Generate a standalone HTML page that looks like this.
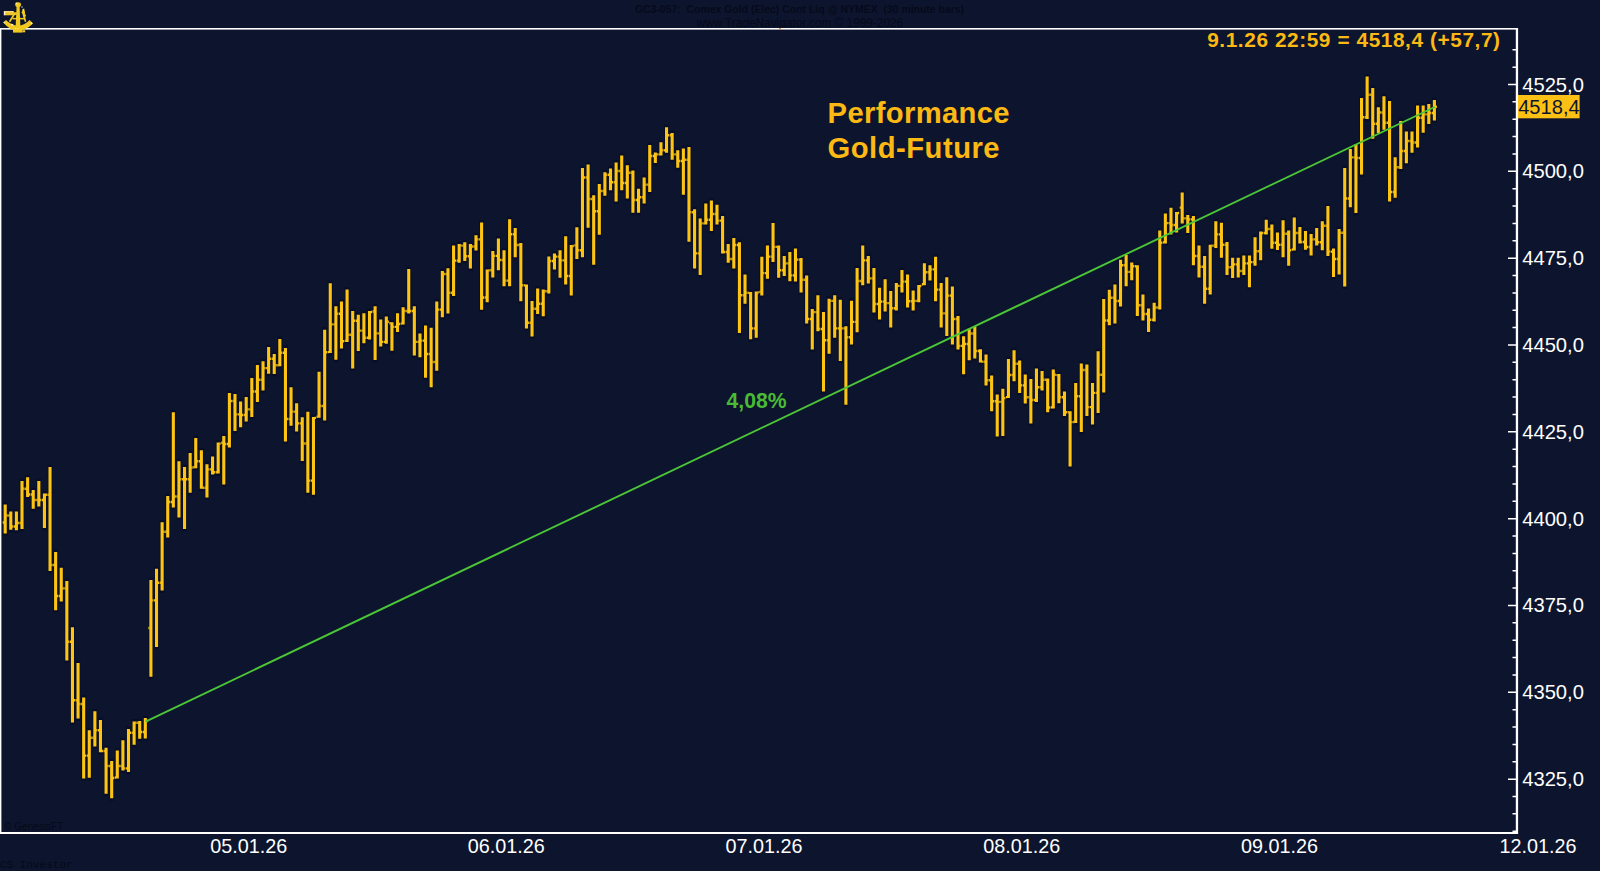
<!DOCTYPE html>
<html lang="de">
<head>
<meta charset="utf-8">
<title>Performance Gold-Future</title>
<style>
html,body{margin:0;padding:0;background:#0d152e;}
body{width:1600px;height:871px;overflow:hidden;position:relative;font-family:"Liberation Sans",Arial,sans-serif;}
svg{position:absolute;left:0;top:0;display:block;}
text{font-family:"Liberation Sans",Arial,sans-serif;}
.ax text{font-size:20.2px;fill:#fff;}
.ax text.d{font-size:19.8px;}
.mono{font-family:"Liberation Mono","Courier New",monospace;}
</style>
</head>
<body>
<svg width="1600" height="871" viewBox="0 0 1600 871">
<rect width="1600" height="871" fill="#0d152e"/>
<!-- header (dark on dark) -->
<g fill="#060a1b" text-anchor="middle">
<text x="799.5" y="12.6" font-size="10.45" font-weight="bold" xml:space="preserve">GC3-057:  Comex Gold (Elec) Cont Liq @ NYMEX  (30 minute bars)</text>
<text x="800" y="26.8" font-size="11.85">www.TradeNavigator.com © 1999-2026</text>
</g>
<!-- frame -->
<g fill="#fff">
<rect x="0" y="28" width="1518" height="1.6"/>
<rect x="0" y="28" width="1.4" height="806"/>
<rect x="0" y="832" width="1518" height="2"/>
<rect x="1515.8" y="28" width="2.3" height="806"/>
</g>
<rect x="779.2" y="28" width="1.6" height="1.6" fill="#e0782a"/>
<path d="M1512.5 831.24H1516.5M1512.5 813.87H1516.5M1512.5 796.51H1516.5M1508 779.14H1516.5M1512.5 761.77H1516.5M1512.5 744.41H1516.5M1512.5 727.04H1516.5M1512.5 709.68H1516.5M1508 692.31H1516.5M1512.5 674.94H1516.5M1512.5 657.58H1516.5M1512.5 640.21H1516.5M1512.5 622.85H1516.5M1508 605.48H1516.5M1512.5 588.11H1516.5M1512.5 570.75H1516.5M1512.5 553.38H1516.5M1512.5 536.02H1516.5M1508 518.65H1516.5M1512.5 501.28H1516.5M1512.5 483.92H1516.5M1512.5 466.55H1516.5M1512.5 449.19H1516.5M1508 431.82H1516.5M1512.5 414.45H1516.5M1512.5 397.09H1516.5M1512.5 379.72H1516.5M1512.5 362.36H1516.5M1508 344.99H1516.5M1512.5 327.62H1516.5M1512.5 310.26H1516.5M1512.5 292.89H1516.5M1512.5 275.53H1516.5M1508 258.16H1516.5M1512.5 240.79H1516.5M1512.5 223.43H1516.5M1512.5 206.06H1516.5M1512.5 188.7H1516.5M1508 171.33H1516.5M1512.5 153.96H1516.5M1512.5 136.6H1516.5M1512.5 119.23H1516.5M1512.5 101.87H1516.5M1508 84.5H1516.5M1512.5 67.13H1516.5M1512.5 49.77H1516.5" stroke="#fff" stroke-width="1.5" fill="none"/>
<g class="ax"><text x="1522.2" y="786.14">4325,0</text><text x="1522.2" y="699.31">4350,0</text><text x="1522.2" y="612.48">4375,0</text><text x="1522.2" y="525.65">4400,0</text><text x="1522.2" y="438.82">4425,0</text><text x="1522.2" y="351.99">4450,0</text><text x="1522.2" y="265.16">4475,0</text><text x="1522.2" y="178.33">4500,0</text><text x="1522.2" y="91.5">4525,0</text><text class="d" x="248.7" y="852.6" text-anchor="middle">05.01.26</text><text class="d" x="506.3" y="852.6" text-anchor="middle">06.01.26</text><text class="d" x="764" y="852.6" text-anchor="middle">07.01.26</text><text class="d" x="1021.7" y="852.6" text-anchor="middle">08.01.26</text><text class="d" x="1279.4" y="852.6" text-anchor="middle">09.01.26</text><text class="d" x="1538" y="852.6" text-anchor="middle">12.01.26</text></g>
<!-- watermark texts -->
<text x="4.2" y="829.8" font-size="10" fill="#050918">© GenesisFT</text>
<text class="mono" x="0" y="868.4" font-size="11" fill="#050918">CS Investor</text>
<!-- price marker -->
<rect x="1518" y="95" width="61.6" height="23.3" fill="#fdc116"/>
<text x="1518.2" y="113.8" font-size="20.1" fill="#0d152e">4518,4</text>
<!-- bars -->
<path d="M5.2 504.6V533.5M10.8 511.6V529.8M16.41 511.6V530.3M22.01 481V529M27.62 477.3V497.1M33.22 490V508.8M38.83 481V506.5M44.43 493.4V527.9M50.04 467.1V571M55.64 552V610.3M61.25 567.7V601.5M66.85 581V660.6M72.46 627.2V722.4M78.06 663V718.5M83.67 697.5V778.5M89.27 730.3V777.75M94.88 711.2V746.6M100.48 720V752.25M106.08 747.75V793.7M111.69 760.9V798.2M117.29 750.6V778.5M122.9 740.25V770.6M128.5 729V772.1M134.11 721.5V744.75M139.71 720.9V738.75M145.32 718.1V738.4M150.92 580V676.7M156.53 568.7V646.9M162.13 522.3V590.6M167.74 496V537.4M173.34 412.2V507.4M178.95 461.3V517.6M184.55 467.1V529M190.16 453V492.8M195.76 438V468.2M201.36 450.25V488.8M206.97 464.3V497.5M212.57 456.6V474.6M218.18 442.6V473.6M223.78 436V484.4M229.39 393V447.4M234.99 394V431M240.6 401.5V427.2M246.2 397V421.6M251.81 378V416.9M257.41 365V401.9M263.02 361.2V390.6M268.62 347.1V373.75M274.23 354V374M279.83 339V366.25M285.44 348V441.6M291.04 387.3V425.7M296.64 403.3V431.5M302.25 417.25V461M307.85 411.8V492.8M313.46 416.9V494.7M319.06 371.7V417.8M324.67 329.7V420.6M330.27 283.2V353.1M335.88 306.25V359.7M341.48 301.6V348.4M347.09 289.4V341.9M352.69 311V368.5M358.3 314.7V350.9M363.9 313.2V343.2M369.51 311V339.4M375.11 306.25V360M380.71 319.4V346.6M386.32 316.6V343.75M391.92 322.2V350.7M397.53 313.2V332M403.13 307.2V324.6M408.74 269.1V313.4M414.34 306.25V355.6M419.95 333.4V357.25M425.55 325.4V377.7M431.16 327.8V387.25M436.76 301.6V370.7M442.37 271V317.15M447.97 268.3V313.5M453.58 245.6V296M459.18 244V262.8M464.79 242.2V260.9M470.39 244V268.4M475.99 235.25V250.6M481.6 222.5V309.7M487.2 269.4V302.2M492.81 251V277.4M498.41 238.4V270.3M504.02 250.25V286.25M509.62 219.3V286.25M515.23 228.1V257.2M520.83 243.1V301.25M526.44 284.4V328.4M532.04 300.9V336.5M537.65 288.5V314M543.25 289.6V316.25M548.86 256.6V293.4M554.46 253.4V269.4M560.07 250.25V277.8M565.67 236.2V284.4M571.27 245V295.6M576.88 227.2V259M582.48 168.1V257.2M588.09 164.4V227.75M593.69 195.3V264.7M599.3 184V234.7M604.9 172.25V195.7M610.51 168.5V190.25M616.11 162.5V201.5M621.72 155.4V190.25M627.32 165.3V198.5M632.93 170.4V212.7M638.53 188.75V212.7M644.14 177.5V203.4M649.74 145V192M655.35 152.6V163M660.95 142.25V155.6M666.55 127.25V152.75M672.16 132.9V159.7M677.76 150.3V167.75M683.37 148.4V194.75M688.97 147V241.7M694.58 209.2V268.4M700.18 218.6V275M705.79 203.4V224.4M711.39 200.4V231.1M717 204.7V224.6M722.6 216V253.4M728.21 244V262.8M733.81 238V268.4M739.42 242.2V333.1M745.02 274.6V303.7M750.63 291.9V339.3M756.23 291.5V337.8M761.83 256.8V295.6M767.44 245.6V278.75M773.04 223V261.9M778.65 245.6V277.8M784.25 255.9V276M789.86 252.1V281.2M795.46 248.4V281.6M801.07 258.1V292.4M806.67 275.4V323.4M812.28 309.1V349.6M817.88 295.25V331.25M823.49 312.1V391.6M829.09 298.8V353.75M834.7 295.25V337.8M840.3 299.75V360.9M845.91 326.2V404.7M851.51 300.7V344.4M857.11 268V332.2M862.72 245.4V285.3M868.32 255.9V283.4M873.93 268V312.5M879.53 287.75V319.6M885.14 279.3V311.6M890.74 291V327.5M896.35 283V310.6M901.95 270V292.4M907.56 274.6V307.4M913.16 290.6V310.6M918.77 285V302.2M924.37 263.2V285.3M929.98 265.25V280.6M935.58 256.8V301.25M941.18 283V327.5M946.79 277.25V336M952.39 286.6V344.4M958 315.9V349.6M963.6 336.3V374.2M969.21 328.4V360.3M974.81 326.2V358.4M980.42 349.2V362.6M986.02 354.4V385.4M991.63 375.5V411.25M997.23 394.4V436.6M1002.84 388.75V436M1008.44 359V398.1M1014.05 350.2V381.25M1019.65 360.5V393M1025.26 374.6V403.4M1030.86 379V423.4M1036.46 368.5V401.9M1042.07 371V390.6M1047.67 378.4V412.2M1053.28 369.6V408.4M1058.88 374.1V403.2M1064.49 391.6V416M1070.09 411.25V466.6M1075.7 383.1V423M1081.3 363.4V431.9M1086.91 364.4V416M1092.51 383.1V424.4M1098.12 351.25V413.1M1103.72 299.1V392.5M1109.33 289.7V325.35M1114.93 284.6V323.45M1120.54 259.7V306.6M1126.14 255V286.3M1131.74 262.5V280.3M1137.35 265.3V316M1142.95 294.4V320.5M1148.56 308.4V332M1154.16 302.8V321.6M1159.77 230.6V309.4M1165.37 213.4V243.4M1170.98 207.75V234.4M1176.58 211.9V232.5M1182.19 192.6V223.5M1187.79 215V232.9M1193.4 216V265.3M1199 245.6V277.5M1204.61 256V303.75M1210.21 244.7V294.4M1215.82 221.25V247.9M1221.42 222.75V257.8M1227.02 241.9V275M1232.63 257.8V277.9M1238.23 257.8V277.5M1243.84 255.4V275M1249.44 255.4V287.25M1255.05 237.2V265.7M1260.65 231.6V260.25M1266.26 219.75V234.4M1271.86 224.4V248.8M1277.47 232.5V250M1283.07 220.3V257.25M1288.68 230.6V265.7M1294.28 217.6V250.5M1299.89 227V243.6M1305.49 231V249.8M1311.1 234V255.6M1316.7 228V245.5M1322.3 221.2V250.25M1327.91 206.1V255.9M1333.51 248.4V276.9M1339.12 229V274.6M1344.72 168V286.6M1350.33 149V207.15M1355.93 143.9V213M1361.54 97.9V174.5M1367.14 76.5V119M1372.75 88.1V138.75M1378.35 107.25V133.1M1383.96 96.2V129.75M1389.56 100.9V201.5M1395.17 157.2V197.8M1400.77 121V168.9M1406.38 131.6V163.25M1411.98 131.6V152.8M1417.58 105.6V147.5M1423.19 105.6V132.75M1428.79 104V124.1M1434.4 100V120.4" stroke="#080e27" stroke-width="4.9" stroke-linecap="square" fill="none"/>
<path d="M5.2 504.6V533.5M10.8 511.6V529.8M16.41 511.6V530.3M22.01 481V529M27.62 477.3V497.1M33.22 490V508.8M38.83 481V506.5M44.43 493.4V527.9M50.04 467.1V571M55.64 552V610.3M61.25 567.7V601.5M66.85 581V660.6M72.46 627.2V722.4M78.06 663V718.5M83.67 697.5V778.5M89.27 730.3V777.75M94.88 711.2V746.6M100.48 720V752.25M106.08 747.75V793.7M111.69 760.9V798.2M117.29 750.6V778.5M122.9 740.25V770.6M128.5 729V772.1M134.11 721.5V744.75M139.71 720.9V738.75M145.32 718.1V738.4M150.92 580V676.7M156.53 568.7V646.9M162.13 522.3V590.6M167.74 496V537.4M173.34 412.2V507.4M178.95 461.3V517.6M184.55 467.1V529M190.16 453V492.8M195.76 438V468.2M201.36 450.25V488.8M206.97 464.3V497.5M212.57 456.6V474.6M218.18 442.6V473.6M223.78 436V484.4M229.39 393V447.4M234.99 394V431M240.6 401.5V427.2M246.2 397V421.6M251.81 378V416.9M257.41 365V401.9M263.02 361.2V390.6M268.62 347.1V373.75M274.23 354V374M279.83 339V366.25M285.44 348V441.6M291.04 387.3V425.7M296.64 403.3V431.5M302.25 417.25V461M307.85 411.8V492.8M313.46 416.9V494.7M319.06 371.7V417.8M324.67 329.7V420.6M330.27 283.2V353.1M335.88 306.25V359.7M341.48 301.6V348.4M347.09 289.4V341.9M352.69 311V368.5M358.3 314.7V350.9M363.9 313.2V343.2M369.51 311V339.4M375.11 306.25V360M380.71 319.4V346.6M386.32 316.6V343.75M391.92 322.2V350.7M397.53 313.2V332M403.13 307.2V324.6M408.74 269.1V313.4M414.34 306.25V355.6M419.95 333.4V357.25M425.55 325.4V377.7M431.16 327.8V387.25M436.76 301.6V370.7M442.37 271V317.15M447.97 268.3V313.5M453.58 245.6V296M459.18 244V262.8M464.79 242.2V260.9M470.39 244V268.4M475.99 235.25V250.6M481.6 222.5V309.7M487.2 269.4V302.2M492.81 251V277.4M498.41 238.4V270.3M504.02 250.25V286.25M509.62 219.3V286.25M515.23 228.1V257.2M520.83 243.1V301.25M526.44 284.4V328.4M532.04 300.9V336.5M537.65 288.5V314M543.25 289.6V316.25M548.86 256.6V293.4M554.46 253.4V269.4M560.07 250.25V277.8M565.67 236.2V284.4M571.27 245V295.6M576.88 227.2V259M582.48 168.1V257.2M588.09 164.4V227.75M593.69 195.3V264.7M599.3 184V234.7M604.9 172.25V195.7M610.51 168.5V190.25M616.11 162.5V201.5M621.72 155.4V190.25M627.32 165.3V198.5M632.93 170.4V212.7M638.53 188.75V212.7M644.14 177.5V203.4M649.74 145V192M655.35 152.6V163M660.95 142.25V155.6M666.55 127.25V152.75M672.16 132.9V159.7M677.76 150.3V167.75M683.37 148.4V194.75M688.97 147V241.7M694.58 209.2V268.4M700.18 218.6V275M705.79 203.4V224.4M711.39 200.4V231.1M717 204.7V224.6M722.6 216V253.4M728.21 244V262.8M733.81 238V268.4M739.42 242.2V333.1M745.02 274.6V303.7M750.63 291.9V339.3M756.23 291.5V337.8M761.83 256.8V295.6M767.44 245.6V278.75M773.04 223V261.9M778.65 245.6V277.8M784.25 255.9V276M789.86 252.1V281.2M795.46 248.4V281.6M801.07 258.1V292.4M806.67 275.4V323.4M812.28 309.1V349.6M817.88 295.25V331.25M823.49 312.1V391.6M829.09 298.8V353.75M834.7 295.25V337.8M840.3 299.75V360.9M845.91 326.2V404.7M851.51 300.7V344.4M857.11 268V332.2M862.72 245.4V285.3M868.32 255.9V283.4M873.93 268V312.5M879.53 287.75V319.6M885.14 279.3V311.6M890.74 291V327.5M896.35 283V310.6M901.95 270V292.4M907.56 274.6V307.4M913.16 290.6V310.6M918.77 285V302.2M924.37 263.2V285.3M929.98 265.25V280.6M935.58 256.8V301.25M941.18 283V327.5M946.79 277.25V336M952.39 286.6V344.4M958 315.9V349.6M963.6 336.3V374.2M969.21 328.4V360.3M974.81 326.2V358.4M980.42 349.2V362.6M986.02 354.4V385.4M991.63 375.5V411.25M997.23 394.4V436.6M1002.84 388.75V436M1008.44 359V398.1M1014.05 350.2V381.25M1019.65 360.5V393M1025.26 374.6V403.4M1030.86 379V423.4M1036.46 368.5V401.9M1042.07 371V390.6M1047.67 378.4V412.2M1053.28 369.6V408.4M1058.88 374.1V403.2M1064.49 391.6V416M1070.09 411.25V466.6M1075.7 383.1V423M1081.3 363.4V431.9M1086.91 364.4V416M1092.51 383.1V424.4M1098.12 351.25V413.1M1103.72 299.1V392.5M1109.33 289.7V325.35M1114.93 284.6V323.45M1120.54 259.7V306.6M1126.14 255V286.3M1131.74 262.5V280.3M1137.35 265.3V316M1142.95 294.4V320.5M1148.56 308.4V332M1154.16 302.8V321.6M1159.77 230.6V309.4M1165.37 213.4V243.4M1170.98 207.75V234.4M1176.58 211.9V232.5M1182.19 192.6V223.5M1187.79 215V232.9M1193.4 216V265.3M1199 245.6V277.5M1204.61 256V303.75M1210.21 244.7V294.4M1215.82 221.25V247.9M1221.42 222.75V257.8M1227.02 241.9V275M1232.63 257.8V277.9M1238.23 257.8V277.5M1243.84 255.4V275M1249.44 255.4V287.25M1255.05 237.2V265.7M1260.65 231.6V260.25M1266.26 219.75V234.4M1271.86 224.4V248.8M1277.47 232.5V250M1283.07 220.3V257.25M1288.68 230.6V265.7M1294.28 217.6V250.5M1299.89 227V243.6M1305.49 231V249.8M1311.1 234V255.6M1316.7 228V245.5M1322.3 221.2V250.25M1327.91 206.1V255.9M1333.51 248.4V276.9M1339.12 229V274.6M1344.72 168V286.6M1350.33 149V207.15M1355.93 143.9V213M1361.54 97.9V174.5M1367.14 76.5V119M1372.75 88.1V138.75M1378.35 107.25V133.1M1383.96 96.2V129.75M1389.56 100.9V201.5M1395.17 157.2V197.8M1400.77 121V168.9M1406.38 131.6V163.25M1411.98 131.6V152.8M1417.58 105.6V147.5M1423.19 105.6V132.75M1428.79 104V124.1M1434.4 100V120.4" stroke="#fdc413" stroke-width="3.1" fill="none"/>
<path d="M2.7 522.5h1.2M6.5 515.5h1.2M8.3 515.5h1.2M12.1 526.5h1.2M13.91 526.5h1.2M17.71 523h1.2M19.51 523h1.2M23.31 488.8h1.2M25.12 488.8h1.2M28.92 494.5h1.2M30.72 494.5h1.2M34.52 500h1.2M36.33 500h1.2M40.13 500h1.2M41.93 500h1.2M45.73 494.8h1.2M47.54 494.8h1.2M51.34 565h1.2M53.14 565h1.2M56.94 596h1.2M58.75 596h1.2M62.55 588.4h1.2M64.35 588.4h1.2M68.15 641.8h1.2M69.96 641.8h1.2M73.76 700.3h1.2M75.56 700.3h1.2M79.36 704h1.2M81.17 704h1.2M84.97 755.6h1.2M86.77 755.6h1.2M90.57 737.8h1.2M92.38 737.8h1.2M96.18 730.3h1.2M97.98 730.3h1.2M101.78 751h1.2M103.58 751h1.2M107.38 766h1.2M109.19 766h1.2M112.99 778h1.2M114.79 777.5h1.2M118.59 766h1.2M120.4 766h1.2M124.2 768.4h1.2M126 768.4h1.2M129.8 732.75h1.2M131.61 732.75h1.2M135.41 722.8h1.2M137.21 722.8h1.2M141.01 732h1.2M142.82 732h1.2M146.62 721h1.2M148.42 628h1.2M152.22 600.4h1.2M154.03 600.4h1.2M157.83 582.75h1.2M159.63 582.75h1.2M163.43 531.8h1.2M165.24 531.8h1.2M169.04 502h1.2M170.84 502h1.2M174.64 496.5h1.2M176.45 496.5h1.2M180.25 479.3h1.2M182.05 479.3h1.2M185.85 479.3h1.2M187.66 479.3h1.2M191.46 467.5h1.2M193.26 467.2h1.2M197.06 461.3h1.2M198.86 461.3h1.2M202.66 487.75h1.2M204.47 487.75h1.2M208.27 469.4h1.2M210.07 469.4h1.2M213.87 472.2h1.2M215.68 472.2h1.2M219.48 443.6h1.2M221.28 442.75h1.2M225.08 444h1.2M226.89 444h1.2M230.69 401h1.2M232.49 401h1.2M236.29 414.4h1.2M238.1 414.4h1.2M241.9 415h1.2M243.7 415h1.2M247.5 409.4h1.2M249.31 409.4h1.2M253.11 391.5h1.2M254.91 391.5h1.2M258.71 379.8h1.2M260.52 379.8h1.2M264.32 368.1h1.2M266.12 368.1h1.2M269.92 358.75h1.2M271.73 358.75h1.2M275.53 365.3h1.2M277.33 365.25h1.2M281.13 352.75h1.2M282.94 352.75h1.2M286.74 419h1.2M288.54 419h1.2M292.34 411.6h1.2M294.14 411.6h1.2M297.94 423.4h1.2M299.75 423.4h1.2M303.55 443.5h1.2M305.35 443.5h1.2M309.15 480.6h1.2M310.96 480.6h1.2M314.76 417.9h1.2M316.56 416.8h1.2M320.36 406h1.2M322.17 406h1.2M325.97 352.2h1.2M327.77 352.1h1.2M331.57 324.4h1.2M333.38 324.4h1.2M337.18 313.75h1.2M338.98 313.75h1.2M342.78 341.3h1.2M344.59 340.9h1.2M348.39 334.75h1.2M350.19 334.75h1.2M353.99 320.7h1.2M355.8 320.7h1.2M359.6 330.6h1.2M361.4 330.6h1.2M365.2 337.75h1.2M367.01 337.75h1.2M370.81 312h1.2M372.61 311.5h1.2M376.41 333.4h1.2M378.21 333.4h1.2M382.01 341.9h1.2M383.82 341.9h1.2M387.62 321.8h1.2M389.42 323.2h1.2M393.22 326.9h1.2M395.03 326.9h1.2M398.83 324h1.2M400.63 323.6h1.2M404.43 311h1.2M406.24 311h1.2M410.04 311h1.2M411.84 311h1.2M415.64 341.9h1.2M417.45 341.9h1.2M421.25 340.6h1.2M423.05 340.6h1.2M426.85 354h1.2M428.66 354h1.2M432.46 362h1.2M434.26 362h1.2M438.06 309.6h1.2M439.87 309.6h1.2M443.67 274h1.2M445.47 274h1.2M449.27 292.8h1.2M451.08 292.8h1.2M454.88 260.6h1.2M456.68 260.6h1.2M460.48 245.6h1.2M462.29 245.6h1.2M466.09 256.25h1.2M467.89 256.25h1.2M471.69 246.5h1.2M473.49 246.5h1.2M477.29 239.4h1.2M479.1 239.4h1.2M482.9 297.5h1.2M484.7 297.5h1.2M488.5 270.4h1.2M490.31 270.3h1.2M494.11 255.9h1.2M495.91 255.9h1.2M499.71 260h1.2M501.52 260h1.2M505.32 280.6h1.2M507.12 280.6h1.2M510.92 234.3h1.2M512.73 234.3h1.2M516.53 245h1.2M518.33 245h1.2M522.13 285.3h1.2M523.94 285.4h1.2M527.74 322.8h1.2M529.54 322.8h1.2M533.34 308.75h1.2M535.15 308.75h1.2M538.95 303.7h1.2M540.75 303.7h1.2M544.55 291.3h1.2M546.36 291.3h1.2M550.16 261h1.2M551.96 261h1.2M555.76 256.6h1.2M557.57 256.6h1.2M561.37 260.4h1.2M563.17 260.4h1.2M566.97 276h1.2M568.77 276h1.2M572.57 246h1.2M574.38 245.4h1.2M578.18 250.25h1.2M579.98 250.25h1.2M583.78 177.5h1.2M585.59 177.5h1.2M589.39 199h1.2M591.19 199h1.2M594.99 211.25h1.2M596.8 211.25h1.2M600.6 191h1.2M602.4 191h1.2M606.2 174.7h1.2M608.01 174.7h1.2M611.81 182.2h1.2M613.61 182.2h1.2M617.41 171h1.2M619.22 171h1.2M623.02 183h1.2M624.82 183h1.2M628.62 172.8h1.2M630.43 172.8h1.2M634.23 200h1.2M636.03 200h1.2M639.83 197.2h1.2M641.64 197.2h1.2M645.44 184.6h1.2M647.24 184.6h1.2M651.04 156h1.2M652.85 156h1.2M656.65 154.4h1.2M658.45 154.4h1.2M662.25 150.3h1.2M664.05 150.3h1.2M667.85 135.3h1.2M669.66 135.3h1.2M673.46 154.4h1.2M675.26 154.4h1.2M679.06 161h1.2M680.87 161h1.2M684.67 159.7h1.2M686.47 159.7h1.2M690.27 212.2h1.2M692.08 212.2h1.2M695.88 253.4h1.2M697.68 253.4h1.2M701.48 223.4h1.2M703.29 223.4h1.2M707.09 219.7h1.2M708.89 219.7h1.2M712.69 214h1.2M714.5 214h1.2M718.3 220.6h1.2M720.1 220.6h1.2M723.9 252h1.2M725.71 252h1.2M729.51 259h1.2M731.31 259h1.2M735.11 245h1.2M736.92 245h1.2M740.72 295.25h1.2M742.52 295.25h1.2M746.32 292.8h1.2M748.13 292.9h1.2M751.93 328.4h1.2M753.73 328.4h1.2M757.53 292.5h1.2M759.33 291.9h1.2M763.13 273.1h1.2M764.94 273.1h1.2M768.74 256.6h1.2M770.54 256.6h1.2M774.34 246.9h1.2M776.15 246.9h1.2M779.95 270.3h1.2M781.75 270.3h1.2M785.55 263.4h1.2M787.36 263.4h1.2M791.16 275.4h1.2M792.96 275.4h1.2M796.76 259.6h1.2M798.57 259.6h1.2M802.37 279.7h1.2M804.17 279.7h1.2M807.97 319h1.2M809.78 319h1.2M813.58 312.1h1.2M815.38 312.1h1.2M819.18 329h1.2M820.99 329h1.2M824.79 340.25h1.2M826.59 340.25h1.2M830.39 300.9h1.2M832.2 300.9h1.2M836 328.4h1.2M837.8 328.4h1.2M841.6 328.4h1.2M843.41 328.4h1.2M847.21 337.25h1.2M849.01 337.25h1.2M852.81 321.9h1.2M854.61 321.9h1.2M858.41 281h1.2M860.22 281h1.2M864.02 260.4h1.2M865.82 260.4h1.2M869.62 278.4h1.2M871.43 278.4h1.2M875.23 304h1.2M877.03 304h1.2M880.83 301.6h1.2M882.64 301.6h1.2M886.44 303.1h1.2M888.24 303.1h1.2M892.04 308.2h1.2M893.85 308.2h1.2M897.65 285.9h1.2M899.45 285.9h1.2M903.25 281.6h1.2M905.06 281.6h1.2M908.86 301.25h1.2M910.66 301.25h1.2M914.46 300.9h1.2M916.27 300.9h1.2M920.07 286h1.2M921.87 284.3h1.2M925.67 272.2h1.2M927.48 272.2h1.2M931.28 269.4h1.2M933.08 269.4h1.2M936.88 289.6h1.2M938.68 289.6h1.2M942.48 313.4h1.2M944.29 313.4h1.2M948.09 295.6h1.2M949.89 295.6h1.2M953.69 319h1.2M955.5 319h1.2M959.3 345.9h1.2M961.1 345.9h1.2M964.9 344h1.2M966.71 344h1.2M970.51 333.5h1.2M972.31 333.5h1.2M976.11 351h1.2M977.92 351h1.2M981.72 361.6h1.2M983.52 361.7h1.2M987.32 380.3h1.2M989.13 380.3h1.2M992.93 401.3h1.2M994.73 401.3h1.2M998.53 401.9h1.2M1000.34 401.9h1.2M1004.14 398.1h1.2M1005.94 397.1h1.2M1009.74 375h1.2M1011.55 375h1.2M1015.35 363.8h1.2M1017.15 363.8h1.2M1020.95 385.4h1.2M1022.76 385.4h1.2M1026.56 397.2h1.2M1028.36 397.2h1.2M1032.16 400h1.2M1033.96 400h1.2M1037.76 387.25h1.2M1039.57 387.25h1.2M1043.37 379.75h1.2M1045.17 379.75h1.2M1048.97 407.5h1.2M1050.78 407.4h1.2M1054.58 374.7h1.2M1056.38 375.1h1.2M1060.18 397.2h1.2M1061.99 397.2h1.2M1065.79 412.2h1.2M1067.59 412.25h1.2M1071.39 422.1h1.2M1073.2 422h1.2M1077 396.25h1.2M1078.8 396.25h1.2M1082.6 370h1.2M1084.41 370h1.2M1088.21 407.1h1.2M1090.01 407.1h1.2M1093.81 392.9h1.2M1095.62 392.9h1.2M1099.42 374.7h1.2M1101.22 374.7h1.2M1105.02 320.5h1.2M1106.83 320.5h1.2M1110.63 297.75h1.2M1112.43 297.75h1.2M1116.23 301h1.2M1118.04 301h1.2M1121.84 265.3h1.2M1123.64 265.3h1.2M1127.44 271.9h1.2M1129.24 271.9h1.2M1133.04 266.25h1.2M1134.85 266.3h1.2M1138.65 305.25h1.2M1140.45 305.25h1.2M1144.25 314h1.2M1146.06 314h1.2M1149.86 319.7h1.2M1151.66 319.7h1.2M1155.46 307.5h1.2M1157.27 307.5h1.2M1161.07 242.8h1.2M1162.87 242.4h1.2M1166.67 223.1h1.2M1168.48 223.1h1.2M1172.28 225h1.2M1174.08 225h1.2M1177.88 213h1.2M1179.69 207.6h1.2M1183.49 218.4h1.2M1185.29 218.4h1.2M1189.09 219.4h1.2M1190.9 219.4h1.2M1194.7 256h1.2M1196.5 256h1.2M1200.3 266.8h1.2M1202.11 266.8h1.2M1205.91 288.75h1.2M1207.71 288.75h1.2M1211.51 245.7h1.2M1213.32 245.6h1.2M1217.12 234.4h1.2M1218.92 234.4h1.2M1222.72 244.7h1.2M1224.52 244.7h1.2M1228.32 267.2h1.2M1230.13 267.2h1.2M1233.93 264.4h1.2M1235.73 264.4h1.2M1239.53 271h1.2M1241.34 271h1.2M1245.14 263.4h1.2M1246.94 263.4h1.2M1250.74 262.1h1.2M1252.55 262.1h1.2M1256.35 251.25h1.2M1258.15 251.25h1.2M1261.95 233h1.2M1263.76 233h1.2M1267.56 229h1.2M1269.36 229h1.2M1273.16 242.8h1.2M1274.97 242.8h1.2M1278.77 244.7h1.2M1280.57 244.7h1.2M1284.37 233.8h1.2M1286.18 233.8h1.2M1289.98 250.3h1.2M1291.78 249.5h1.2M1295.58 233h1.2M1297.39 233h1.2M1301.19 242h1.2M1302.99 242h1.2M1306.79 247h1.2M1308.6 247h1.2M1312.4 239.4h1.2M1314.2 239.4h1.2M1318 242.2h1.2M1319.8 242.2h1.2M1323.6 225.7h1.2M1325.41 225.7h1.2M1329.21 251.6h1.2M1331.01 251.6h1.2M1334.81 259h1.2M1336.62 259h1.2M1340.42 232.8h1.2M1342.22 232.8h1.2M1346.02 198.5h1.2M1347.83 198.5h1.2M1351.63 157.4h1.2M1353.43 157.4h1.2M1357.23 158h1.2M1359.04 158h1.2M1362.84 117.2h1.2M1364.64 117.2h1.2M1368.44 94.7h1.2M1370.25 94.7h1.2M1374.05 123.75h1.2M1375.85 123.75h1.2M1379.65 112.5h1.2M1381.46 112.5h1.2M1385.26 122.8h1.2M1387.06 122.8h1.2M1390.86 192h1.2M1392.67 192h1.2M1396.47 167.3h1.2M1398.27 167.3h1.2M1402.07 151h1.2M1403.88 151h1.2M1407.67 141h1.2M1409.48 141h1.2M1413.28 142.5h1.2M1415.08 142.5h1.2M1418.88 117.75h1.2M1420.69 117.75h1.2M1424.49 114.4h1.2M1426.29 114.4h1.2M1430.09 113h1.2M1431.9 113h1.2M1435.7 106.7h1.2" stroke="#fdc413" stroke-width="2.4" fill="none"/>
<!-- trend line -->
<line x1="145.6" y1="721.6" x2="1434.7" y2="107" stroke="#4bc636" stroke-width="1.9"/>
<text x="726.6" y="408" font-size="21.7" font-weight="bold" fill="#4abb34" textLength="60" lengthAdjust="spacingAndGlyphs">4,08%</text>
<!-- titles -->
<g font-weight="bold" fill="#fcb913">
<text transform="translate(827.6 123.3) scale(1.022 1)" font-size="28.6" textLength="178.08" lengthAdjust="spacing">Performance</text>
<text transform="translate(827.6 158.2) scale(1.022 1)" font-size="28.6" textLength="168.30" lengthAdjust="spacing">Gold-Future</text>
<text transform="translate(1207.2 46.7) scale(1.05 1)" font-size="19.8" textLength="278.86" lengthAdjust="spacing">9.1.26 22:59 = 4518,4 (+57,7)</text>
</g>
<!-- sextant icon -->
<g id="sextant" stroke="none">
<g fill="#f1c81e">
<path d="M3.3 22.4 L6 20 Q11 25.3 18 25.6 Q25 25.3 29.6 20 L33 23.6 Q26 30.6 18 30.8 Q10 30.6 3.3 22.4 Z"/>
<path d="M16.6 6 L19.6 6 L20.4 27 L15.6 27 Z"/>
<ellipse cx="18.1" cy="4.7" rx="2.9" ry="2.4"/>
<rect x="4.4" y="11" width="9.4" height="4.3" fill="#efc32c"/>
<path d="M13.4 12.3 L16.8 12.3 L16.8 14.6 L14.6 15.2 L10.3 22.2 L8.8 21.2 L12.6 15.2 Z"/>
<rect x="12.6" y="17.9" width="11.6" height="1.5"/>
<path d="M22.6 9 L24.2 8.6 L24.9 13 L25.2 17 L26.3 21.4 L24.8 22 L23.4 17.6 L22 12.6 Z"/>
<circle cx="23.3" cy="12.2" r="1.6"/>
<circle cx="24.6" cy="15.6" r="1.3"/>
<rect x="13" y="26.6" width="9.4" height="6"/>
<rect x="22.4" y="30.2" width="2.8" height="2.1"/>
</g>
<rect x="3.8" y="11.1" width="1.5" height="4.1" fill="#fdeecb"/>
<rect x="5.3" y="11.2" width="8" height="1" fill="#f9dc8a"/>
<circle cx="16.6" cy="3.4" r="1" fill="#f8e58a"/>
<circle cx="22" cy="7" r=".7" fill="#e8e4d8"/>
<circle cx="23.4" cy="10" r=".7" fill="#f5e9b8"/>
<rect x="14.8" y="28.2" width="1.2" height=".9" fill="#f7eec0"/>
<rect x="17.2" y="28.2" width="1.2" height=".9" fill="#f7eec0"/>
<path d="M3.3 22.4 L4.4 21.4 L5.4 23 L4.4 23.6 Z" fill="#f8efc4"/>
<path d="M31.4 22 L32.6 23.2 L31.4 24.6 L30.6 23.6 Z" fill="#f8efc4"/>
<path d="M11.5 23.6 L13.6 24.8 L13 26 L10.8 24.8 Z" fill="#fbf3d0"/>
</g>
</svg>
</body>
</html>
